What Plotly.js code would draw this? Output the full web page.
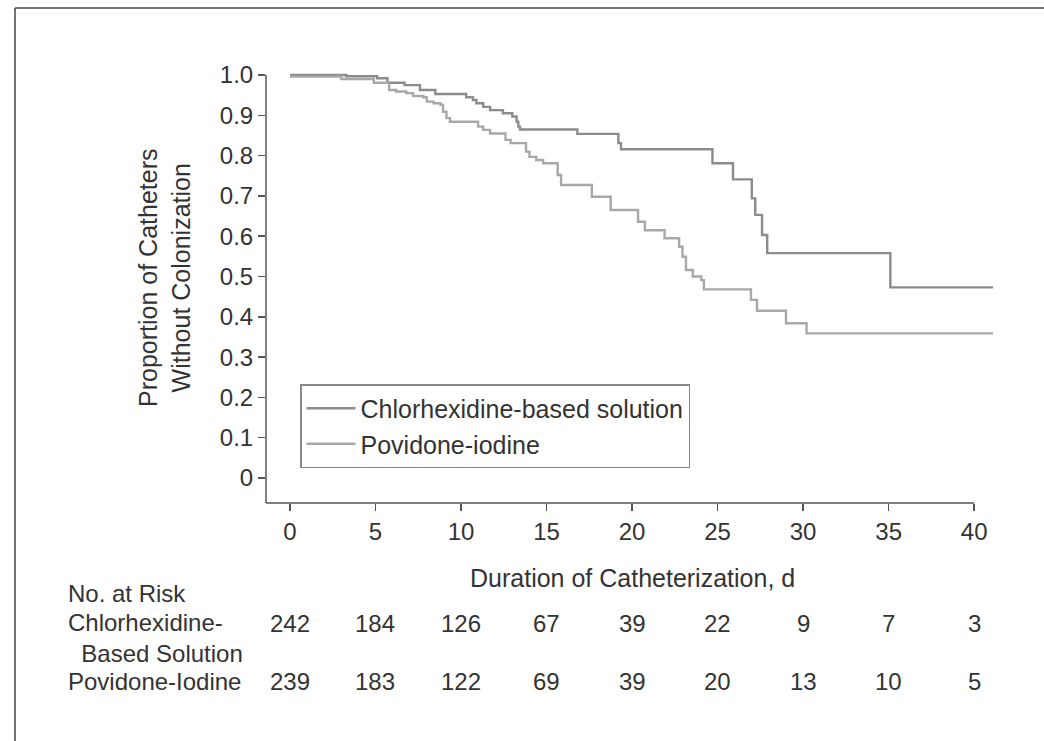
<!DOCTYPE html>
<html>
<head>
<meta charset="utf-8">
<script src="https://cdn.plot.ly/plotly-3.0.1.min.js"></script>
<style>
  html, body { margin: 0; padding: 0; background: #ffffff; }
  #chart { width: 1044px; height: 741px; }
</style>
</head>
<body>
<div id="chart"></div>
<script>
// Kaplan-Meier step data (days, proportion without colonization)
const chxDays = [0, 3.3, 5.1, 5.7, 6.7, 7.6, 8.5, 10.3, 10.7, 10.9, 11.3, 11.7, 12.45, 13.0, 13.25, 13.35, 13.45, 16.8, 19.2, 19.35, 24.7, 25.9, 27.0, 27.2, 27.6, 27.9, 35.1, 41.1];
const chxSurv = [1.0, 0.997, 0.992, 0.981, 0.975, 0.963, 0.953, 0.945, 0.938, 0.930, 0.921, 0.913, 0.905, 0.897, 0.884, 0.872, 0.865, 0.854, 0.831, 0.816, 0.781, 0.741, 0.694, 0.653, 0.603, 0.558, 0.473, 0.473];

const pviDays = [0, 3.0, 4.9, 5.8, 6.2, 6.8, 7.2, 7.8, 8.0, 8.4, 8.8, 8.95, 9.15, 9.35, 11.0, 11.3, 11.7, 12.6, 12.9, 13.8, 14.0, 14.4, 14.8, 15.65, 15.85, 17.65, 18.75, 20.35, 20.75, 21.9, 22.75, 22.95, 23.15, 23.55, 24.05, 24.2, 26.95, 27.3, 29.0, 30.2, 41.2];
const pviSurv = [0.996, 0.990, 0.981, 0.963, 0.959, 0.955, 0.948, 0.945, 0.934, 0.930, 0.926, 0.909, 0.893, 0.884, 0.872, 0.864, 0.855, 0.839, 0.831, 0.810, 0.797, 0.789, 0.781, 0.752, 0.727, 0.698, 0.665, 0.636, 0.615, 0.595, 0.574, 0.549, 0.516, 0.500, 0.491, 0.468, 0.442, 0.415, 0.384, 0.359, 0.359];

const seriesNames = ["Chlorhexidine-based solution", "Povidone-iodine"];

const xTickVals = [0, 5, 10, 15, 20, 25, 30, 35, 40];
const yTickVals = [0, 0.1, 0.2, 0.3, 0.4, 0.5, 0.6, 0.7, 0.8, 0.9, 1.0];
const yTickText = ["0", "0.1", "0.2", "0.3", "0.4", "0.5", "0.6", "0.7", "0.8", "0.9", "1.0"];

const riskDays = [0, 5, 10, 15, 20, 25, 30, 35, 40];
const riskChx = [242, 184, 126, 67, 39, 22, 9, 7, 3];
const riskPvi = [239, 183, 122, 69, 39, 20, 13, 10, 5];

const FONT = '"Liberation Sans", Arial, "DejaVu Sans", sans-serif';
const TXT = '#333333';
const AX = '#555555';

const traces = [
  { x: chxDays, y: chxSurv, name: seriesNames[0], type: 'scatter', mode: 'lines',
    line: { shape: 'hv', color: '#8c8c8c', width: 2.4 } },
  { x: pviDays, y: pviSurv, name: seriesNames[1], type: 'scatter', mode: 'lines',
    line: { shape: 'hv', color: '#a8a8a8', width: 2.4 } }
];

const ann = [];
function paperX(px) { return (px - 266) / 727; }
function paperY(py) { return (503 - py) / 432; }

ann.push({ text: 'Proportion of Catheters<br>Without Colonization', xref: 'paper', yref: 'paper',
  x: paperX(164), y: paperY(278), textangle: -90, showarrow: false, xanchor: 'center', yanchor: 'middle',
  font: { family: FONT, size: 25, color: TXT } });
ann.push({ text: 'Duration of Catheterization, d', xref: 'paper', yref: 'paper',
  x: paperX(632), y: paperY(578), showarrow: false, xanchor: 'center', yanchor: 'middle',
  font: { family: FONT, size: 25, color: TXT } });
ann.push({ text: 'No. at Risk', xref: 'paper', yref: 'paper', x: paperX(66), y: paperY(593),
  showarrow: false, xanchor: 'left', yanchor: 'middle', font: { family: FONT, size: 24, color: TXT } });
ann.push({ text: 'Chlorhexidine-<br>&nbsp;&nbsp;Based Solution', xref: 'paper', yref: 'paper', x: paperX(66), y: paperY(638),
  showarrow: false, xanchor: 'left', yanchor: 'middle', align: 'left', font: { family: FONT, size: 24, color: TXT } });
ann.push({ text: 'Povidone-Iodine', xref: 'paper', yref: 'paper', x: paperX(66), y: paperY(681),
  showarrow: false, xanchor: 'left', yanchor: 'middle', font: { family: FONT, size: 24, color: TXT } });
riskDays.forEach((d, i) => {
  ann.push({ text: String(riskChx[i]), xref: 'x', yref: 'paper', x: d, y: paperY(623),
    showarrow: false, xanchor: 'center', yanchor: 'middle', font: { family: FONT, size: 24, color: TXT } });
  ann.push({ text: String(riskPvi[i]), xref: 'x', yref: 'paper', x: d, y: paperY(681),
    showarrow: false, xanchor: 'center', yanchor: 'middle', font: { family: FONT, size: 24, color: TXT } });
});

const shapes = [
  // x axis line (ends at day 40)
  { type: 'line', xref: 'x', yref: 'paper', x0: -1.4, x1: 40, y0: 0, y1: 0, line: { color: AX, width: 1.5 } },
  // y axis line (from bottom to 1.0)
  { type: 'line', xref: 'paper', yref: 'y', x0: 0, x1: 0, y0: -0.062, y1: 1.0, line: { color: AX, width: 1.5 } },
  // outer frame
  { type: 'line', xref: 'paper', yref: 'paper', x0: paperX(15), x1: paperX(1044), y0: paperY(8), y1: paperY(8), line: { color: '#444444', width: 1.5 } },
  { type: 'line', xref: 'paper', yref: 'paper', x0: paperX(15), x1: paperX(15), y0: paperY(8), y1: paperY(741), line: { color: '#444444', width: 1.5 } }
];

const layout = {
  width: 1044, height: 741,
  margin: { l: 266, r: 51, t: 71, b: 238 },
  paper_bgcolor: '#ffffff', plot_bgcolor: '#ffffff',
  showlegend: true,
  legend: {
    x: paperX(300), y: paperY(384), xanchor: 'left', yanchor: 'top',
    bordercolor: '#888888', borderwidth: 1.5, bgcolor: 'rgba(255,255,255,0)',
    font: { family: FONT, size: 25, color: TXT }, tracegroupgap: 0, itemwidth: 49
  },
  xaxis: {
    range: [-1.4, 41.1], showgrid: false, zeroline: false, showline: false,
    tickmode: 'array', tickvals: xTickVals, ticks: 'outside', ticklen: 7, tickwidth: 1.5, tickcolor: AX,
    tickfont: { family: FONT, size: 24, color: TXT }
  },
  yaxis: {
    range: [-0.062, 1.01], showgrid: false, zeroline: false, showline: false,
    tickmode: 'array', tickvals: yTickVals, ticktext: yTickText, ticks: 'outside', ticklen: 7, tickwidth: 1.5, tickcolor: AX,
    tickfont: { family: FONT, size: 24, color: TXT }
  },
  annotations: ann,
  shapes: shapes
};

Plotly.newPlot('chart', traces, layout, { displayModeBar: false, staticPlot: true });
</script>
</body>
</html>
